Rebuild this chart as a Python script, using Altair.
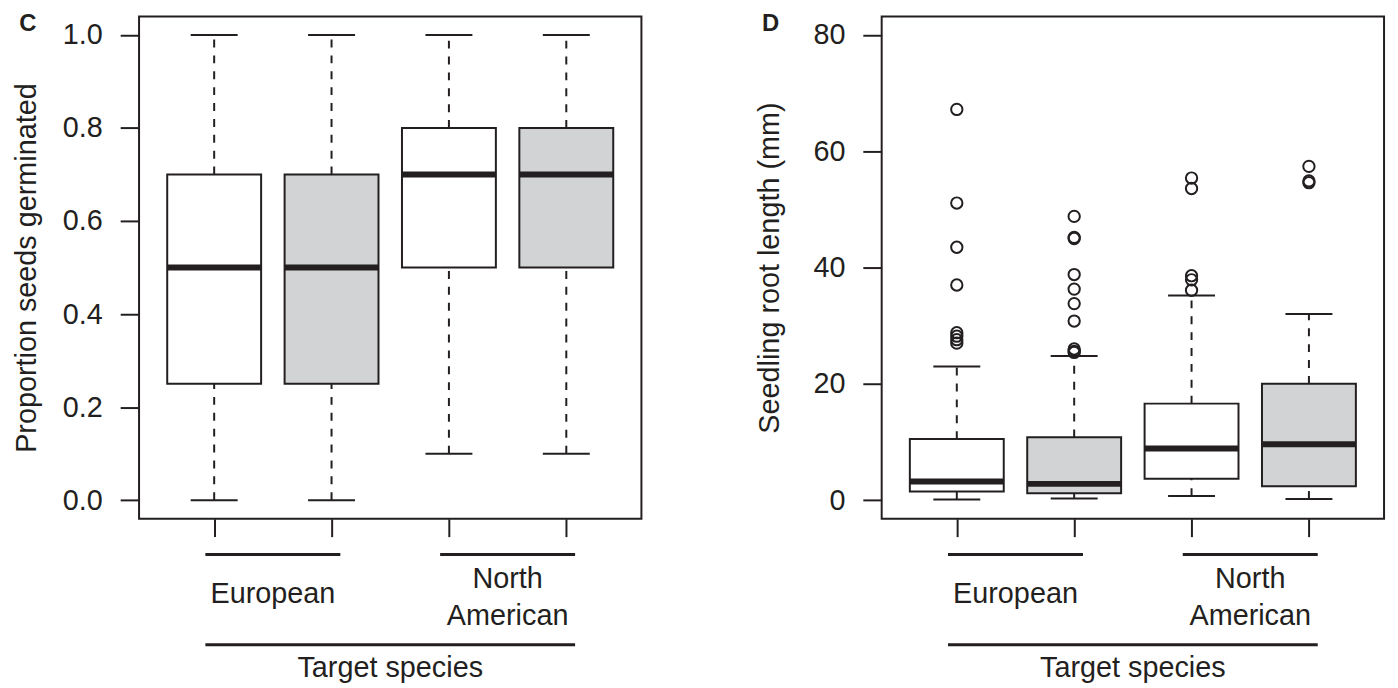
import altair as alt
import pandas as pd

# ---------------- data ----------------
positions = [1, 2, 3, 4]
origin = ["European", "European", "North American", "North American"]
shade = ["open", "shaded", "open", "shaded"]

# Panel C: proportion of seeds germinated
germ_low = [0.0, 0.0, 0.1, 0.1]
germ_q1 = [0.25, 0.25, 0.5, 0.5]
germ_med = [0.5, 0.5, 0.7, 0.7]
germ_q3 = [0.7, 0.7, 0.8, 0.8]
germ_high = [1.0, 1.0, 1.0, 1.0]
germ_out_pos = []
germ_out_val = []

# Panel D: seedling root length (mm)
root_low = [0.1, 0.3, 0.7, 0.2]
root_q1 = [1.5, 1.2, 3.7, 2.4]
root_med = [3.2, 2.8, 8.9, 9.6]
root_q3 = [10.5, 10.8, 16.6, 20.0]
root_high = [23.0, 24.8, 35.2, 32.0]
root_out_pos = [1, 1, 1, 1, 1, 1, 1, 1,
                2, 2, 2, 2, 2, 2, 2, 2, 2, 2,
                3, 3, 3, 3, 3,
                4, 4, 4]
root_out_val = [67.2, 51.1, 43.5, 37.0, 28.8, 28.2, 27.6, 27.0,
                48.8, 45.2, 45.0, 38.8, 36.3, 33.8, 30.8, 26.0, 25.6, 25.4,
                55.4, 53.6, 38.6, 37.9, 36.1,
                57.4, 54.9, 54.6]

group_labels = ["European", "North\nAmerican"]
group_centers = [1.5, 3.5]
group_line_start = [0.925, 2.925]
group_line_end = [2.075, 4.075]
axis_title_x = "Target species"

INK = "#231f20"
GREY = "#d1d3d4"
FONT = "Liberation Sans"
W = 506
H = 506
BOX_HALF = 0.4
CAP_HALF = 0.2


def panel(low, q1, med, q3, high, out_pos, out_val, ydom, yticks, yfmt, ytitle, letter):
    df = pd.DataFrame({
        "pos": positions, "origin": origin, "shade": shade,
        "low": low, "q1": q1, "med": med, "q3": q3, "high": high,
    })
    df["bl"] = df["pos"] - BOX_HALF
    df["br"] = df["pos"] + BOX_HALF
    df["cl"] = df["pos"] - CAP_HALF
    df["cr"] = df["pos"] + CAP_HALF

    xscale = alt.Scale(domain=[0.36, 4.64], nice=False, zero=False)
    pad = (ydom[1] - ydom[0]) * 0.04
    yscale = alt.Scale(domain=[ydom[0] - pad, ydom[1] + pad], nice=False, zero=False)

    xaxis = alt.Axis(values=positions, labels=False, tickSize=18, title=None,
                     domain=False, grid=False, tickWidth=2, tickColor=INK)
    yaxis = alt.Axis(values=yticks, format=yfmt, tickSize=19, labelPadding=18,
                     labelFont=FONT, labelFontSize=29, labelColor=INK,
                     title=ytitle, titleX=-113, titleY=H / 2, titleAngle=270,
                     titleBaseline="middle", titleAlign="center",
                     titleFont=FONT, titleFontSize=29, titleFontWeight="normal",
                     titleColor=INK,
                     domain=False, grid=False, tickWidth=2, tickColor=INK)

    base = alt.Chart(df)
    x = alt.X("pos:Q", scale=xscale, axis=xaxis)

    whisk_lo = base.mark_rule(strokeWidth=2, strokeDash=[8, 8], color=INK).encode(
        x=x, y=alt.Y("low:Q", scale=yscale, axis=yaxis), y2="q1:Q")
    whisk_hi = base.mark_rule(strokeWidth=2, strokeDash=[8, 8], color=INK).encode(
        x="pos:Q", y="q3:Q", y2="high:Q")
    cap_lo = base.mark_rule(strokeWidth=2, color=INK).encode(
        x="cl:Q", x2="cr:Q", y="low:Q")
    cap_hi = base.mark_rule(strokeWidth=2, color=INK).encode(
        x="cl:Q", x2="cr:Q", y="high:Q")
    box = base.mark_rect(stroke=INK, strokeWidth=2).encode(
        x="bl:Q", x2="br:Q", y="q1:Q", y2="q3:Q",
        fill=alt.Fill("shade:N", scale=alt.Scale(domain=["open", "shaded"],
                                                 range=["#ffffff", GREY]), legend=None))
    median = base.mark_rule(strokeWidth=6, color=INK).encode(
        x="bl:Q", x2="br:Q", y="med:Q")

    layers = [whisk_lo, whisk_hi, cap_lo, cap_hi, box, median]

    if out_pos:
        odf = pd.DataFrame({"pos": out_pos, "val": out_val})
        pts = alt.Chart(odf).mark_point(shape="circle", filled=False, size=130,
                                        strokeWidth=2, color=INK, opacity=1).encode(
            x="pos:Q", y="val:Q")
        layers.append(pts)

    gdf = pd.DataFrame({"label": group_labels, "center": group_centers,
                        "start": group_line_start, "end": group_line_end})
    glines = alt.Chart(gdf).mark_rule(strokeWidth=3, color=INK).encode(
        x="start:Q", x2="end:Q", y=alt.value(542))
    eu = alt.Chart(gdf.iloc[[0]]).mark_text(font=FONT, fontSize=29, color=INK,
                                            baseline="middle", align="center").encode(
        x="center:Q", y=alt.value(582), text="label:N")
    na = alt.Chart(gdf.iloc[[1]]).mark_text(font=FONT, fontSize=29, color=INK,
                                            baseline="middle", align="center",
                                            lineBreak="\n", lineHeight=37).encode(
        x="center:Q", y=alt.value(567), text="label:N")

    tdf = pd.DataFrame({"label": [axis_title_x], "start": [group_line_start[0]],
                        "end": [group_line_end[1]], "center": [2.5]})
    tline = alt.Chart(tdf).mark_rule(strokeWidth=3, color=INK).encode(
        x="start:Q", x2="end:Q", y=alt.value(633))
    ttext = alt.Chart(tdf).mark_text(font=FONT, fontSize=29, color=INK,
                                     baseline="middle", align="center").encode(
        x="center:Q", y=alt.value(656), text="label:N")

    ldf = pd.DataFrame({"letter": [letter]})
    let = alt.Chart(ldf).mark_text(font=FONT, fontSize=24, fontWeight="bold", color=INK,
                                   baseline="middle", align="center").encode(
        x=alt.value(-112), y=alt.value(8), text="letter:N")

    layers += [glines, eu, na, tline, ttext, let]
    return alt.layer(*layers).properties(width=W, height=H)


pc = panel(germ_low, germ_q1, germ_med, germ_q3, germ_high, germ_out_pos, germ_out_val,
           [0, 1], [0, 0.2, 0.4, 0.6, 0.8, 1.0], ".1f", "Proportion seeds germinated", "C")
pd_ = panel(root_low, root_q1, root_med, root_q3, root_high, root_out_pos, root_out_val,
            [0, 80], [0, 20, 40, 60, 80], "d", "Seedling root length (mm)", "D")

chart = alt.hconcat(pc, pd_, spacing=242, bounds="flush").properties(
    padding={"left": 4, "top": 1, "right": 5, "bottom": 0},
    background="white",
).configure_view(stroke=INK, strokeWidth=2).configure_axis(
    labelFont=FONT, labelFontSize=29, labelColor=INK,
    titleFont=FONT, titleFontSize=29, titleFontWeight="normal", titleColor=INK,
)

chart.save("out.html", embed_options={"renderer": "svg", "actions": False})
